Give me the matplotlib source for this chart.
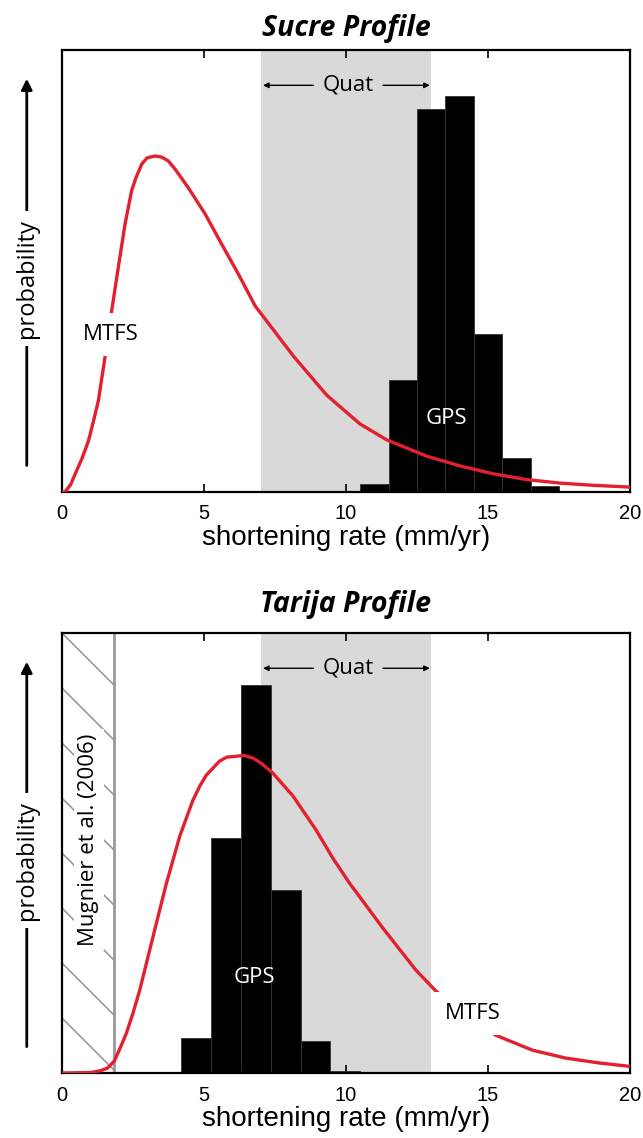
import numpy as np
import matplotlib.pyplot as plt

# values in relative probability units (0-100 = full height of the axes)
sucre_edges = [10.5, 11.5, 12.5, 13.5, 14.5, 15.5, 16.5, 17.5, 18.5]
sucre_gps = [1.9, 25.3, 86.7, 89.6, 35.7, 7.6, 1.3, 0.2]
sucre_rate = [0.0, 0.1, 0.3, 0.46, 0.7, 0.93, 1.1, 1.28, 1.51, 1.75, 1.98, 2.22, 2.45,
              2.6, 2.81, 3.0, 3.27, 3.5, 3.74, 4.0, 4.45, 5.04, 5.62, 6.21, 6.8, 7.5,
              8.14, 9.32, 10.49, 11.43, 12.84, 14.01, 15.19, 16.36, 17.54, 18.71, 20.0]
sucre_mtfs = [0.0, 0.0, 1.6, 4.0, 7.5, 11.5, 15.8, 20.6, 30.3, 41.0, 50.7, 60.6, 68.1,
              71.0, 74.2, 75.6, 76.0, 75.8, 74.9, 72.9, 68.8, 62.9, 56.1, 49.3, 42.1, 36.2,
              30.8, 21.9, 15.4, 11.8, 8.1, 5.9, 4.1, 2.8, 2.0, 1.5, 1.1]

tarija_edges = [4.2, 5.25, 6.3, 7.35, 8.4, 9.45, 10.5]
tarija_gps = [8.0, 53.4, 88.2, 41.6, 7.3, 0.5]
tarija_rate = [0.0, 1.0, 1.34, 1.6, 1.84, 2.05, 2.27, 2.5, 2.74, 3.21, 3.45, 3.68, 4.15,
               4.61, 4.85, 5.08, 5.55, 5.8, 6.14, 6.4, 6.72, 7.0, 7.42, 8.13, 8.95, 9.53,
               10.12, 11.29, 12.46, 13.17, 14.2, 15.27, 16.56, 17.73, 18.9, 20.0]
tarija_mtfs = [0.0, 0.1, 0.5, 1.1, 2.7, 5.7, 9.1, 13.6, 18.9, 31.1, 37.3, 43.2, 53.9,
               62.0, 65.2, 67.7, 70.9, 71.8, 72.0, 72.2, 71.6, 70.5, 68.2, 63.0, 55.2, 48.9,
               43.2, 33.0, 23.4, 18.6, 13.2, 8.6, 5.2, 3.4, 2.3, 1.5]

quat = (7, 13)
mugnier_max = 1.84
xticks = [0, 5, 10, 15, 20]

red = '#e2202f'
shade = '#d9d9d9'
lab_font = 'Open Sans'
tick_font = 'Liberation Sans'

fig = plt.figure(figsize=(6.43, 11.38), dpi=100)
ax1 = fig.add_axes([0.0964, 0.5677, 0.8834, 0.3884])
ax2 = fig.add_axes([0.0964, 0.0571, 0.8834, 0.3866])


def panel(ax, edges, gps, rate, mtfs, title, title_y, gps_xy, mtfs_xy):
    ax.axvspan(quat[0], quat[1], color=shade, lw=0, zorder=0)
    ax.bar(edges[:-1], gps, width=np.diff(edges), align='edge', color='black',
           edgecolor='#333333', linewidth=0.6, zorder=2)
    ax.plot(rate, mtfs, color=red, lw=2.4, zorder=3, solid_capstyle='butt',
            solid_joinstyle='round')
    ax.set_xlim(0, 20)
    ax.set_ylim(0, 100)
    ax.set_xticks(xticks)
    ax.set_xticklabels([str(t) for t in xticks], family=tick_font, fontsize=14.5)
    ax.set_yticks([])
    ax.tick_params(axis='x', direction='in', top=True, length=6, width=1.2, pad=9)
    for s in ax.spines.values():
        s.set_linewidth(1.6)
    ax.set_xlabel('shortening rate (mm/yr)', family=tick_font, fontsize=20, labelpad=1)

    # Quat arrows
    yq = 92
    ap = dict(arrowstyle='-|>', lw=1, color='black', mutation_scale=8, shrinkA=0, shrinkB=0)
    ax.annotate('', xy=(quat[0] + 0.08, yq), xytext=(8.85, yq), arrowprops=ap, zorder=4)
    ax.annotate('', xy=(quat[1] - 0.05, yq), xytext=(11.3, yq), arrowprops=ap, zorder=4)
    ax.text(10.09, yq, 'Quat', family=lab_font, fontsize=16, ha='center', va='center', zorder=4)

    ax.text(gps_xy[0], gps_xy[1], 'GPS', family=lab_font, fontsize=16, color='white',
            ha='center', va='center', zorder=5)
    ax.text(mtfs_xy[0], mtfs_xy[1], 'MTFS', family=lab_font, fontsize=16, color='black',
            ha='center', va='center', zorder=5,
            bbox=dict(boxstyle='square,pad=0.5', fc='white', ec='none'))

    # probability arrow on the left
    ax.annotate('', xy=(-0.062, 0.935), xytext=(-0.062, 0.06), xycoords='axes fraction',
                textcoords='axes fraction', annotation_clip=False,
                arrowprops=dict(arrowstyle='-|>', lw=2, color='black', mutation_scale=16,
                                shrinkA=0, shrinkB=0))
    ax.text(-0.062, 0.4825, 'probability', transform=ax.transAxes, rotation=90,
            family=lab_font, fontsize=17, ha='center', va='center',
            bbox=dict(boxstyle='square,pad=0.35', fc='white', ec='none'))

    fig.text(0.538, title_y, title, family=lab_font, fontsize=20.5, fontweight='bold',
             fontstyle='italic', ha='center', va='center')


panel(ax1, sucre_edges, sucre_gps, sucre_rate, sucre_mtfs, 'Sucre Profile', 0.975,
      (13.54, 16.7), (1.72, 35.7))
panel(ax2, tarija_edges, tarija_gps, tarija_rate, tarija_mtfs, 'Tarija Profile', 0.469,
      (6.78, 21.6), (14.45, 13.6))

# Mugnier et al. (2006) hatched zone
fig.canvas.draw()
bb = ax2.get_window_extent()
px_x = bb.width / 20.0
px_y = bb.height / 100.0
dy = mugnier_max * px_x / px_y
step = 55 / px_y
for k in range(9):
    y0 = 100 - k * step
    ax2.plot([0, mugnier_max], [y0, y0 - dy], color='#999999', lw=1.2, zorder=1)
ax2.axvline(mugnier_max, color='#999999', lw=2, zorder=1)
ax2.text(0.95, 53.0, 'Mugnier et al. (2006)', family=lab_font, fontsize=16, rotation=90,
         ha='center', va='center', zorder=5,
         bbox=dict(boxstyle='square,pad=0.2', fc='white', ec='none'))

fig.savefig('out.png', dpi=100)
